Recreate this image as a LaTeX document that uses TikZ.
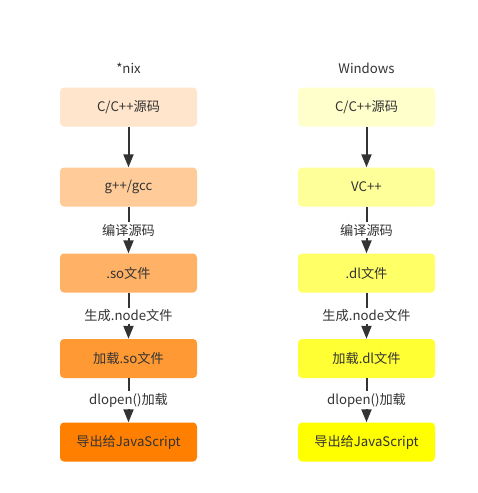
\documentclass[tikz,border=0pt]{standalone}
\usepackage{fontspec}
\newfontfamily\cjk{Noto Sans CJK SC}
\usetikzlibrary{arrows.meta}
\definecolor{txtgray}{HTML}{333333}
\definecolor{nixA}{HTML}{FFE5CC}
\definecolor{nixB}{HTML}{FFCC99}
\definecolor{nixC}{HTML}{FFB266}
\definecolor{nixD}{HTML}{FF9933}
\definecolor{nixE}{HTML}{FF8000}
\definecolor{winA}{HTML}{FFFFCC}
\definecolor{winB}{HTML}{FFFF99}
\definecolor{winC}{HTML}{FFFF66}
\definecolor{winD}{HTML}{FFFF33}
\definecolor{winE}{HTML}{FFFF00}

\begin{document}
\begin{tikzpicture}[x=1pt,y=-1pt,
  box/.style={rounded corners=4pt, minimum width=137pt, minimum height=39pt,
    inner sep=0pt, font=\cjk\fontsize{13.2}{15}\selectfont, text=txtgray},
  title/.style={font=\cjk\fontsize{13.2}{15}\selectfont, text=txtgray},
  flow/.style={draw=txtgray, line width=2pt, -{Triangle[length=13pt,width=10pt]}},
  lbl/.style={fill=white, inner sep=2pt, font=\cjk\fontsize{13.2}{15}\selectfont, text=txtgray}]
\useasboundingbox[fill=white] (0,0) rectangle (478,493);
% *nix
\node[title] (nixT) at (128.5,68) {*nix};
\node[box, fill=nixA] (nix1) at (128.5,107) {C/C++源码};
\node[box, fill=nixB] (nix2) at (128.5,187) {g++/gcc};
\node[box, fill=nixC] (nix3) at (128.5,273) {.so文件};
\node[box, fill=nixD] (nix4) at (128.5,358.5) {加载.so文件};
\node[box, fill=nixE] (nix5) at (128.5,442) {导出给JavaScript};
\draw[flow] (nix1) -- (nix2);
\draw[flow] (nix2) -- node[lbl] {编译源码} (nix3);
\draw[flow] (nix3) -- node[lbl] {生成.node文件} (nix4);
\draw[flow] (nix4) -- node[lbl] {dlopen()加载} (nix5);
% Windows
\node[title] (winT) at (366.5,68) {Windows};
\node[box, fill=winA] (win1) at (366.5,107) {C/C++源码};
\node[box, fill=winB] (win2) at (366.5,187) {VC++};
\node[box, fill=winC] (win3) at (366.5,273) {.dl文件};
\node[box, fill=winD] (win4) at (366.5,358.5) {加载.dl文件};
\node[box, fill=winE] (win5) at (366.5,442) {导出给JavaScript};
\draw[flow] (win1) -- (win2);
\draw[flow] (win2) -- node[lbl] {编译源码} (win3);
\draw[flow] (win3) -- node[lbl] {生成.node文件} (win4);
\draw[flow] (win4) -- node[lbl] {dlopen()加载} (win5);
\end{tikzpicture}
\end{document}
